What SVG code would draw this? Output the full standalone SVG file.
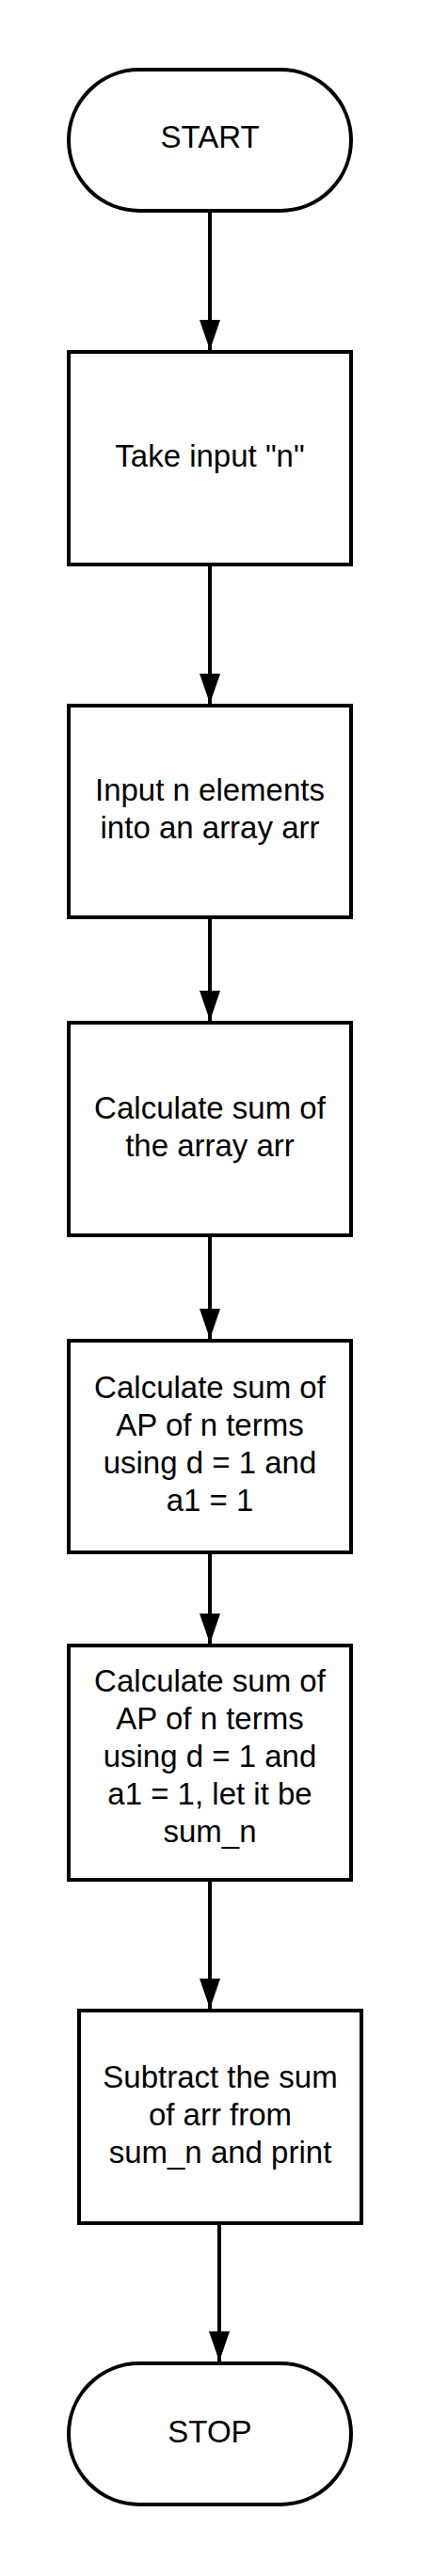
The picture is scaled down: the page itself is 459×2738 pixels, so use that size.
<svg xmlns="http://www.w3.org/2000/svg" width="459" height="2738" viewBox="0 0 459 2738">
<defs>
<style>
.shape{fill:#ffffff;stroke:#000000;stroke-width:4}
.lbl{font-family:"Liberation Sans",Arial,sans-serif;font-size:33px;fill:#000000;text-anchor:middle}
.conn{stroke:#000000;stroke-width:4;fill:none}
</style>
<marker id="arrow" markerUnits="userSpaceOnUse" markerWidth="32" markerHeight="22" refX="32" refY="11" orient="auto">
<path d="M0,0 L32,11 L0,22 Z" fill="#000000"/>
</marker>
</defs>
<rect width="459" height="2738" fill="#ffffff"/>
<g id="connectors">
<line class="conn" x1="223" y1="224" x2="223" y2="372" marker-end="url(#arrow)"/>
<line class="conn" x1="223" y1="600" x2="223" y2="748" marker-end="url(#arrow)"/>
<line class="conn" x1="223" y1="975" x2="223" y2="1085" marker-end="url(#arrow)"/>
<line class="conn" x1="223" y1="1313" x2="223" y2="1423" marker-end="url(#arrow)"/>
<line class="conn" x1="223" y1="1650" x2="223" y2="1747" marker-end="url(#arrow)"/>
<line class="conn" x1="223" y1="1998" x2="223" y2="2135" marker-end="url(#arrow)"/>
<line class="conn" x1="233" y1="2363" x2="233" y2="2510" marker-end="url(#arrow)"/>
</g>
<g id="start">
<rect class="shape" x="73" y="74" width="300" height="150" rx="75" ry="75"/>
<text class="lbl" x="223" y="157">START</text>
</g>
<g id="take-input">
<rect class="shape" x="73" y="374" width="300" height="226"/>
<text class="lbl" x="223" y="496">Take input "n"</text>
</g>
<g id="input-elements">
<rect class="shape" x="73" y="750" width="300" height="225"/>
<text class="lbl" x="223" y="851">Input n elements</text>
<text class="lbl" x="223" y="891">into an array arr</text>
</g>
<g id="sum-array">
<rect class="shape" x="73" y="1087" width="300" height="226"/>
<text class="lbl" x="223" y="1189">Calculate sum of</text>
<text class="lbl" x="223" y="1229">the array arr</text>
</g>
<g id="sum-ap">
<rect class="shape" x="73" y="1425" width="300" height="225"/>
<text class="lbl" x="223" y="1486">Calculate sum of</text>
<text class="lbl" x="223" y="1526">AP of n terms</text>
<text class="lbl" x="223" y="1566">using d = 1 and</text>
<text class="lbl" x="223" y="1606">a1 = 1</text>
</g>
<g id="sum-ap-n">
<rect class="shape" x="73" y="1749" width="300" height="249"/>
<text class="lbl" x="223" y="1798">Calculate sum of</text>
<text class="lbl" x="223" y="1838">AP of n terms</text>
<text class="lbl" x="223" y="1878">using d = 1 and</text>
<text class="lbl" x="223" y="1918">a1 = 1, let it be</text>
<text class="lbl" x="223" y="1958">sum_n</text>
</g>
<g id="subtract">
<rect class="shape" x="84" y="2137" width="300" height="226"/>
<text class="lbl" x="234" y="2219">Subtract the sum</text>
<text class="lbl" x="234" y="2259">of arr from</text>
<text class="lbl" x="234" y="2299">sum_n and print</text>
</g>
<g id="stop">
<rect class="shape" x="73" y="2512" width="300" height="150" rx="75" ry="75"/>
<text class="lbl" x="223" y="2596">STOP</text>
</g>
</svg>
